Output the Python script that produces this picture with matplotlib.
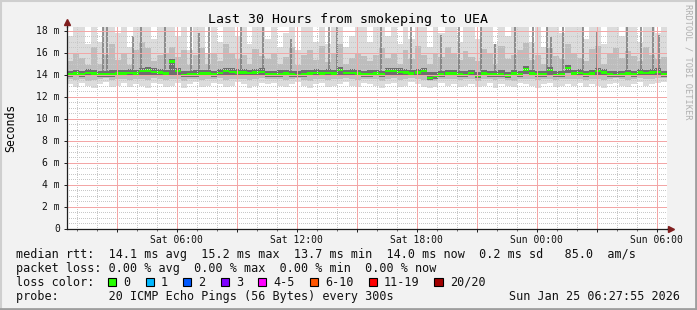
import numpy as np
import matplotlib
matplotlib.use("Agg")
import matplotlib.pyplot as plt
from matplotlib.ticker import FixedLocator, FixedFormatter, FuncFormatter
from matplotlib.patches import Rectangle
from matplotlib.lines import Line2D

#================ DATA (ms) : one column per 18 min, starting Sat 00:30 ==========

step_hr = 0.3

median = [14.0,14.1,14.05,14.15,14.1,14.05,14.0,14.05,14.1,14.1,14.15,14.1,14.3,14.35,14.25,14.2,14.1,
          15.2,14.3,13.95,14.0,14.05,14.1,14.1,14.0,14.15,14.3,14.25,14.2,14.2,14.15,14.2,14.25,14.0,
          14.0,14.05,14.1,14.0,13.95,14.05,14.1,14.15,14.1,14.15,14.1,14.4,14.15,14.15,14.1,14.05,14.05,
          14.1,14.05,14.3,14.3,14.25,14.2,14.1,14.2,14.3,13.7,13.85,14.05,14.1,14.1,14.05,13.95,
          14.15,13.85,14.1,14.05,14.0,14.05,13.9,14.1,14.05,14.45,14.1,14.05,14.0,14.4,13.95,14.05,14.6,
          14.1,14.15,14.05,14.1,14.3,14.2,14.0,13.95,14.05,14.1,14.05,14.2,14.15,14.2,14.25,14.0]

smoke_lo = [13.1,12.9,13.2,13.0,12.8,13.1,13.3,12.9,13.0,13.2,12.9,13.1,13.0,12.8,13.2,13.1,12.9,
            13.0,13.2,12.8,13.1,13.3,12.9,13.0,13.2,13.1,12.9,13.0,13.3,13.1,12.8,13.0,13.2,13.1,
            13.2,13.0,12.9,13.1,13.3,13.0,12.8,13.1,13.2,12.9,13.0,13.1,13.3,13.0,12.9,13.2,13.1,
            13.0,12.8,13.1,13.2,12.9,13.0,13.3,13.1,12.9,12.8,12.9,13.2,13.0,13.1,12.9,13.0,
            13.1,12.9,13.0,13.2,12.8,13.1,13.0,12.9,13.2,13.1,13.0,12.8,13.1,13.2,12.9,13.0,13.1,
            13.0,13.2,12.9,13.1,13.0,12.8,13.1,13.2,13.0,12.9,13.1,13.3,13.0,13.1,13.2,13.3]

smoke_lo2 = [13.55,13.5,13.6,13.45,13.5,13.6,13.65,13.5,13.55,13.6,13.5,13.55,13.6,13.5,13.65,13.6,13.5,
             13.55,13.6,13.45,13.55,13.6,13.5,13.55,13.6,13.65,13.5,13.55,13.6,13.6,13.5,13.55,13.65,13.55,
             13.6,13.55,13.5,13.6,13.65,13.5,13.45,13.55,13.6,13.5,13.55,13.6,13.65,13.55,13.5,13.6,13.55,
             13.55,13.45,13.6,13.65,13.5,13.55,13.65,13.6,13.5,13.4,13.45,13.6,13.55,13.6,13.5,13.55,
             13.6,13.45,13.55,13.6,13.5,13.55,13.5,13.45,13.6,13.55,13.6,13.5,13.55,13.6,13.5,13.55,13.6,
             13.55,13.6,13.5,13.6,13.55,13.5,13.6,13.65,13.55,13.5,13.6,13.65,13.55,13.6,13.65,13.7]

dark_lo = [13.8,13.85,13.8,13.9,13.85,13.8,13.75,13.8,13.85,13.85,13.9,13.85,13.95,14.0,13.95,13.9,13.85,
           13.95,14.0,13.75,13.8,13.8,13.85,13.85,13.75,13.9,14.0,13.95,13.95,13.9,13.9,13.95,13.95,13.8,
           13.8,13.8,13.85,13.75,13.75,13.8,13.85,13.9,13.85,13.9,13.85,14.0,13.9,13.9,13.85,13.8,13.8,
           13.85,13.8,14.0,14.0,13.95,13.9,13.85,13.95,14.0,13.5,13.55,13.8,13.85,13.85,13.8,13.75,
           13.9,13.65,13.85,13.8,13.75,13.8,13.7,13.85,13.8,14.05,13.85,13.8,13.75,14.0,13.75,13.8,14.1,
           13.85,13.9,13.8,13.85,14.0,13.95,13.8,13.75,13.8,13.85,13.8,13.95,13.9,13.95,14.0,13.8]

dark_hi = [14.35,14.4,14.3,14.5,14.4,14.35,14.3,14.4,14.45,14.4,14.5,14.4,14.6,14.65,14.55,14.5,14.4,
           15.4,14.6,14.3,14.35,14.4,14.45,14.4,14.35,14.5,14.6,14.55,14.5,14.5,14.45,14.5,14.55,14.3,
           14.35,14.4,14.45,14.3,14.3,14.4,14.45,14.5,14.4,14.5,14.45,14.7,14.45,14.5,14.4,14.35,14.4,
           14.45,14.35,14.6,14.6,14.55,14.5,14.4,14.5,14.6,14.25,14.2,14.35,14.4,14.45,14.35,14.3,
           14.45,14.2,14.4,14.35,14.3,14.4,14.25,14.45,14.35,14.75,14.4,14.35,14.3,14.7,14.3,14.35,14.9,
           14.4,14.5,14.35,14.45,14.6,14.5,14.3,14.3,14.35,14.45,14.35,14.5,14.45,14.5,14.55,14.3]

smoke_hi2 = [15.2,16.0,15.5,14.9,16.5,15.0,15.8,16.8,15.3,15.9,14.9,16.2,17.0,16.4,15.2,15.8,16.0,
             16.5,15.6,16.2,14.9,15.8,16.4,15.0,15.9,15.2,16.8,16.0,15.4,15.8,15.0,16.3,15.7,15.4,
             16.0,15.0,15.6,16.5,14.9,15.8,16.2,15.3,16.6,15.1,15.9,16.8,15.0,15.5,16.0,15.7,15.2,
             15.8,16.4,15.5,15.9,15.0,16.2,15.4,16.6,15.8,15.0,16.0,15.6,16.5,15.9,15.3,16.1,
             15.6,15.2,16.3,15.9,15.0,16.6,15.4,15.8,16.2,16.9,15.3,15.8,15.0,16.4,15.7,15.4,16.8,
             16.0,15.5,15.2,16.3,16.6,15.0,15.9,16.4,15.5,16.1,15.7,15.2,16.5,15.8,15.4,15.6]

smoke_hi = [17.5,18.5,18.5,16.8,18.5,17.0,18.5,18.5,17.8,18.5,16.5,18.5,18.5,18.5,17.2,18.5,18.5,
            18.5,17.5,18.5,16.2,18.5,18.5,16.0,18.5,17.0,18.5,18.5,17.5,18.5,16.8,18.5,18.5,17.2,
            18.5,16.5,17.8,18.5,16.2,18.5,18.5,17.0,18.5,16.8,18.5,18.5,16.5,17.5,18.5,18.5,17.0,
            18.5,18.5,17.5,18.5,16.8,18.5,17.2,18.5,18.5,16.5,18.5,17.8,18.5,18.5,17.0,18.5,
            18.5,17.2,18.5,18.5,16.8,18.5,17.5,18.5,18.5,18.5,17.0,18.5,16.5,18.5,18.5,17.8,18.5,
            18.5,18.5,17.2,18.5,18.5,16.8,18.5,18.5,17.5,18.5,18.5,17.0,18.5,18.5,17.8,18.5]

# single slow pings showing up as dark streaks (hours since start, ms)
spike_hr = [1.8,2.0,3.3,3.7,4.9,6.2,6.6,7.1,8.7,9.8,11.2,13.1,13.5,15.7,17.2,
            18.7,19.6,20.7,21.4,22.4,23.3,24.0,24.2,24.8,25.8,26.5,28.0,28.7,29.3,29.6]
spike_top = [18.5,18.5,17.5,18.5,18.5,18.5,17.8,18.5,18.5,18.5,17.2,18.5,18.5,18.5,18.5,
             17.6,18.5,18.5,16.8,18.5,18.5,18.5,17.4,18.5,18.5,17.9,18.5,18.5,18.5,17.6]

xtick_hr = [2.5,5.5,8.5,11.5,14.5,17.5,20.5,23.5,26.5,29.5]
xtick_lab = ["","Sat 06:00","","Sat 12:00","","Sat 18:00","","Sun 00:00","","Sun 06:00"]

loss_labels = ["0","1","2","3","4-5","6-10","11-19","20/20"]
loss_colors = ["#26ff00","#00b8ff","#0059ff","#7e00ff","#ff00ff","#ff5500","#ff0000","#a10000"]

legend_lines = ["median rtt:  14.1 ms avg  15.2 ms max  13.7 ms min  14.0 ms now  0.2 ms sd   85.0  am/s",
                "packet loss: 0.00 % avg  0.00 % max  0.00 % min  0.00 % now",
                "loss color:",
                "probe:       20 ICMP Echo Pings (56 Bytes) every 300s"]
stamp = "Sun Jan 25 06:27:55 2026"

#================ PLOT ===========================================================

W, H = 697, 310
mono = 'DejaVu Sans Mono'
plt.rcParams['font.family'] = mono

def fx(px):
    return px / W

def fy(py):
    return 1 - py / H

fig = plt.figure(figsize=(W/100., H/100.), dpi=100, facecolor='#f2f2f2')
ytop_ms = 18.3
x0, x1, ybot = 66.5, 666.5, 228.5
ytop = ybot - 11.0 * ytop_ms          # 11 px per ms
ax = fig.add_axes([fx(x0), fy(ybot), (x1-x0)/W, (ybot-ytop)/H])
ax.set_facecolor('white')

n = len(median)
edges = np.arange(n+1) * step_hr

ax.stairs(smoke_hi, edges, baseline=smoke_lo, fill=True, color='#dcdcdc', zorder=1)
ax.stairs(smoke_hi2, edges, baseline=smoke_lo2, fill=True, color='#bdbdbd', zorder=1.1)
ax.vlines(spike_hr, 14.3, spike_top, color='#787878', linewidth=1.1, zorder=1.2)
ax.stairs(dark_hi, edges, baseline=dark_lo, fill=True, color='#6e6e6e', zorder=1.3)

med = np.array(median)
ax.bar(edges[:-1], 0.22, bottom=med-0.11, width=step_hr, align='edge',
       color='#26ff00', linewidth=0, zorder=1.5)

ax.set_xlim(0, 30)
ax.set_ylim(0, ytop_ms)

# minor positions that do not sit on a major line
xminor = [h + 0.5 for h in range(30) if (h + 0.5) not in xtick_hr]
yminor = [k * 0.5 for k in range(37) if k % 4 != 0]
ymajor = list(range(0, 19, 2))

ax.xaxis.set_major_locator(FixedLocator(xtick_hr))
ax.xaxis.set_major_formatter(FixedFormatter(xtick_lab))
ax.xaxis.set_minor_locator(FixedLocator(xminor))
ax.yaxis.set_major_locator(FixedLocator(ymajor))
ax.yaxis.set_minor_locator(FixedLocator(yminor))
ax.yaxis.set_major_formatter(FuncFormatter(lambda v, p: "0" if v == 0 else "%d m" % v))

# grid on top of the smoke, like rrdtool; light gray dots, pink major lines
px = 0.72
gmin = dict(color='#c8c8c8', linestyle=(0.5, (1, 1)), linewidth=px, zorder=2)
gmaj = dict(color='#f3a6a6', linestyle='-', linewidth=px, zorder=2.5)
for xv in xminor:
    ax.axvline(xv, **gmin)
for yv in yminor:
    ax.axhline(yv, **gmin)
for xv in xtick_hr:
    ax.axvline(xv, **gmaj)
for yv in ymajor[1:]:
    ax.axhline(yv, **gmaj)

ax.tick_params(which='major', direction='out', length=2.2, width=0.7, color='#1f1f1f',
               labelsize=7, pad=2.5, labelcolor='#111111')
ax.tick_params(axis='y', which='minor', length=0)
ax.tick_params(axis='x', which='minor', direction='out', length=1.2, width=0.6, color='#555555')

for s in ['top', 'right']:
    ax.spines[s].set_visible(False)
for s in ['left', 'bottom']:
    ax.spines[s].set_color('#1f1f1f')
    ax.spines[s].set_linewidth(0.9)
    ax.spines[s].set_zorder(3)

# axis arrows
ax.plot([0, 0], [1, 1.03], transform=ax.transAxes, color='#1f1f1f', lw=0.9, clip_on=False)
ax.plot(0, 1.025, marker='^', ms=4.5, color='#801f1f', transform=ax.transAxes, clip_on=False)
ax.plot([1, 1.008], [0, 0], transform=ax.transAxes, color='#1f1f1f', lw=0.9, clip_on=False)
ax.plot(1.008, 0, marker='>', ms=4.5, color='#801f1f', transform=ax.transAxes, clip_on=False)

fig.text(fx(10.5), fy(128), 'Seconds', rotation=90, ha='center', va='center', fontsize=8.3)
fig.text(fx(348), fy(19), 'Last 30 Hours from smokeping to UEA', ha='center', va='center',
         fontsize=9.5)
fig.text(fx(688), fy(62), 'RRDTOOL / TOBI OETIKER', rotation=270, ha='center', va='center',
         fontsize=6.2, color='#b0b0b0')

# legend
cw = 7.1
rows = [254.3, 268.5, 282.0, 296.3]
for txt, ry in zip(legend_lines, rows):
    fig.text(fx(16.4), fy(ry), txt, ha='left', va='center', fontsize=8.5, color='#111111')
fig.text(fx(680), fy(rows[3]), stamp, ha='right', va='center', fontsize=8.5, color='#111111')

bx = 108.0
for lab, col in zip(loss_labels, loss_colors):
    fig.add_artist(Rectangle((fx(bx), fy(rows[2] + 4.2)), 8.4/W, 8.4/H, transform=fig.transFigure,
                             facecolor=col, edgecolor='black', linewidth=0.8))
    lx = bx + 15.6
    fig.text(fx(lx), fy(rows[2]), lab, ha='left', va='center', fontsize=8.5, color='#111111')
    bx = lx + len(lab) * cw + 14.8

# frame shading
fig.add_artist(Line2D([0, 1], [fy(1), fy(1)], transform=fig.transFigure, color='#cfcfcf', lw=1.5))
fig.add_artist(Line2D([fx(1), fx(1)], [0, 1], transform=fig.transFigure, color='#cfcfcf', lw=1.5))
fig.add_artist(Line2D([0, 1], [fy(H-1.5), fy(H-1.5)], transform=fig.transFigure, color='#9e9e9e', lw=2))
fig.add_artist(Line2D([fx(W-1.5), fx(W-1.5)], [0, 1], transform=fig.transFigure, color='#9e9e9e', lw=2))

fig.savefig('out.png', dpi=100, facecolor=fig.get_facecolor())
